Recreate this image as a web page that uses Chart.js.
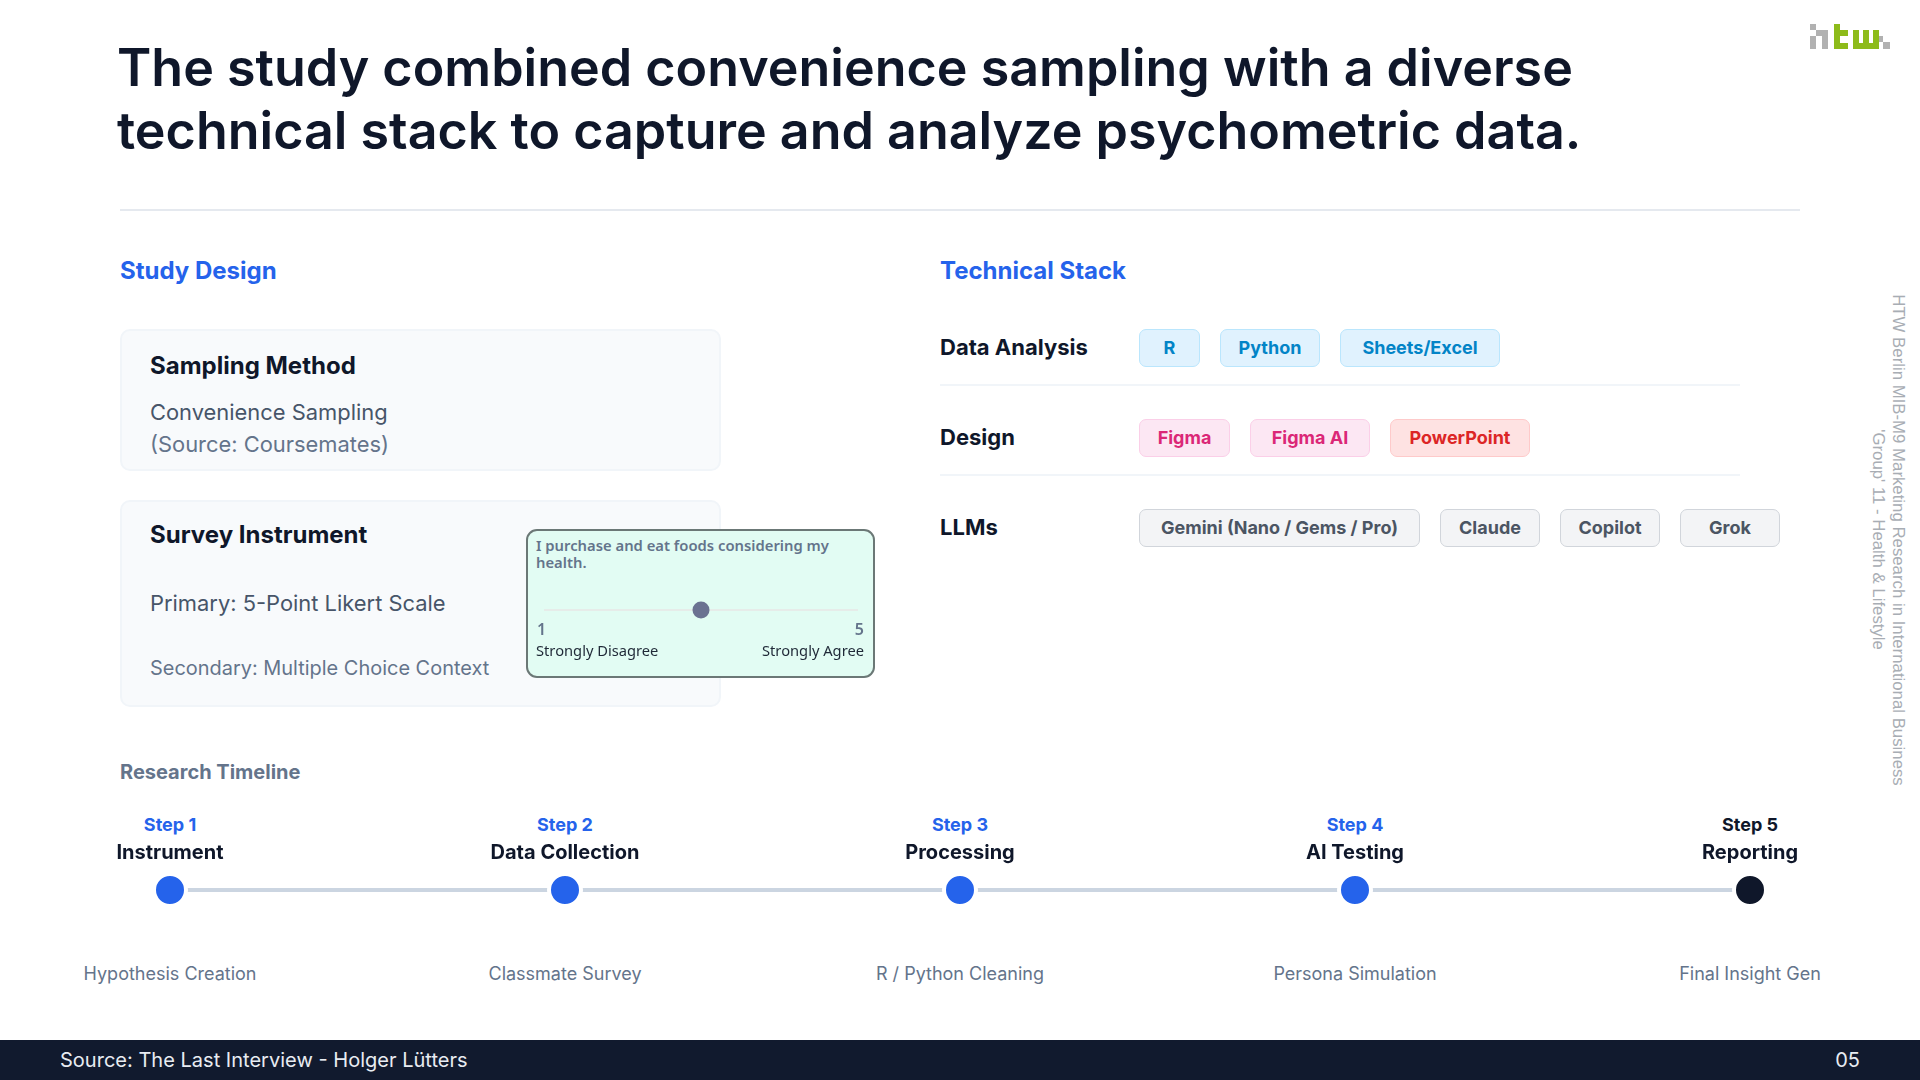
<!DOCTYPE html>
<html>
<head>
<meta charset="utf-8">
<title>Study design</title>
<script src="https://cdn.jsdelivr.net/npm/chart.js@4/dist/chart.umd.min.js"></script>
<style>
html, body { margin: 0; padding: 0; background: #fff; }
body { width: 1920px; height: 1080px; position: relative; overflow: hidden; font-family: Inter, sans-serif; color: #0f172a; }
.abs { position: absolute; white-space: nowrap; }
h1 { position: absolute; left: 117px; top: 36px; margin: 0; font-size: 52px; line-height: 63px; font-weight: 600; white-space: nowrap; }
.rule { position: absolute; left: 120px; top: 209px; width: 1680px; height: 2px; background: #e5e9ef; }
.head { font-size: 24px; font-weight: 700; color: #2563eb; line-height: 30px; top: 256px; }
.card { position: absolute; left: 120px; width: 601px; box-sizing: border-box; background: #f8fafc; border: 2px solid #f1f5f9; border-radius: 10px; }
.lbl { transform: translateY(-50%); }
.likert { position: absolute; left: 526px; top: 529px; width: 349px; height: 149px; box-sizing: border-box; background: #e2fcf3; border: 2.5px solid #6b7876; border-radius: 11px; }
.row { position: absolute; left: 1139px; display: flex; gap: 20px; height: 38px; }
.pill { box-sizing: border-box; height: 38px; line-height: 35px; text-align: center; border: 1.5px solid; border-radius: 7px; font-size: 18px; font-weight: 700; }
.divider { position: absolute; left: 940px; width: 800px; height: 2px; background: #f1f5f9; }
.rowname { left: 940px; font-size: 22px; font-weight: 700; }
.side { position: absolute; right: 12px; top: 540px; transform: translateY(-50%); writing-mode: vertical-rl; text-align: center; font-family: "Liberation Sans", sans-serif; font-size: 16.8px; line-height: 20px; color: #a8adb4; white-space: nowrap; }
.foot { position: absolute; left: 0; top: 1040px; width: 1920px; height: 40px; background: #111a2e; }
.step { transform: translate(-50%, -50%); text-align: center; }
</style>
</head>
<body>
<h1>The study combined convenience sampling with a diverse<br>technical stack to capture and analyze psychometric data.</h1>

<svg class="abs" style="left:1810px;top:24px" width="80" height="25" viewBox="0 0 80 25" role="img" aria-label="htw logo">
  <g fill="#b1b1b1">
    <rect x="0" y="0" width="6" height="6"/><rect x="0" y="12" width="6" height="13"/>
    <path d="M6 6h12v19h-6V12H6z"/>
    <rect x="73" y="18" width="7" height="7"/><rect x="67" y="12" width="6" height="6"/>
  </g>
  <path fill="#8dbb1a" d="M24 0h6v6h8v6h-8v7h8v6H24zM43 6h6v13h4V6h6v13h4V6h6v19H43z"/>
</svg>

<div class="rule"></div>
<div class="abs head" style="left:120px">Study Design</div>
<div class="abs head" style="left:940px">Technical Stack</div>

<div class="card" style="top:329px;height:142px"></div>
<div class="card" style="top:500px;height:207px"></div>
<div class="abs lbl" style="left:150px;top:365px;font-size:24px;font-weight:700">Sampling Method</div>
<div class="abs lbl" style="left:150px;top:412px;font-size:21.9px;color:#475569">Convenience Sampling</div>
<div class="abs lbl" style="left:150px;top:444px;font-size:21.9px;color:#64748b">(Source: Coursemates)</div>
<div class="abs lbl" style="left:150px;top:534px;font-size:24px;font-weight:700">Survey Instrument</div>
<div class="abs lbl" style="left:150px;top:603px;font-size:21.9px;color:#475569">Primary: 5-Point Likert Scale</div>
<div class="abs lbl" style="left:150px;top:668px;font-size:19.95px;color:#64748b">Secondary: Multiple Choice Context</div>

<div class="likert"></div>
<div class="abs" style="left:536px;top:537px;font-size:14.8px;line-height:17px;font-weight:600;color:#64748b;font-family:'Noto Sans',sans-serif">I purchase and eat foods considering my<br>health.</div>
<canvas id="likertChart" class="abs" style="left:530px;top:596px"></canvas>
<div id="likertLabels"></div>

<div id="stack"></div>

<div class="abs lbl" style="left:120px;top:772px;font-size:20px;font-weight:700;color:#64748b">Research Timeline</div>
<canvas id="timelineChart" class="abs" style="left:0;top:860px"></canvas>
<div id="steps"></div>

<div class="side">HTW Berlin MIB-M9 Marketing Research in International Business<br>'Group' 11 - Health &amp; Lifestyle</div>

<div class="foot"></div>
<div class="abs lbl" style="left:60px;top:1060px;font-size:20.05px;color:#e8ecf2">Source: The Last Interview - Holger Lütters</div>
<div class="abs lbl" style="right:60px;top:1060px;font-size:20px;color:#e8ecf2">05</div>

<script>
// TIMELINE DATA
const stepNumbers = [1, 2, 3, 4, 5];
const stepTitles = ["Instrument", "Data Collection", "Processing", "AI Testing", "Reporting"];
const stepNotes = ["Hypothesis Creation", "Classmate Survey", "R / Python Cleaning", "Persona Simulation", "Final Insight Gen"];
const stepLevels = [0, 0, 0, 0, 0];
const stepColors = ["#2563eb", "#2563eb", "#2563eb", "#2563eb", "#0f172a"];

// LIKERT DATA
const likertRange = [1, 5];
const likertAnswer = [3];
const likertEnds = ["Strongly Disagree", "Strongly Agree"];

// TECH STACK
const stackRows = ["Data Analysis", "Design", "LLMs"];
const dataTools = ["R", "Python", "Sheets/Excel"];
const designTools = ["Figma", "Figma AI", "PowerPoint"];
const llmTools = ["Gemini (Nano / Gems / Pro)", "Claude", "Copilot", "Grok"];

function addText(parent, cls, css, text) {
  const el = document.createElement('div');
  el.className = cls;
  el.style.cssText = css;
  el.textContent = text;
  parent.appendChild(el);
  return el;
}

// stack rows
const stack = document.getElementById('stack');
const rowTops = [329, 419, 509];
const blue = 'background:#e0f2fe;border-color:#bae6fd;color:#0284c7';
const pink = 'background:#fce7f3;border-color:#fbcfe8;color:#db2777';
const red = 'background:#fee2e2;border-color:#fecaca;color:#dc2626';
const gray = 'background:#f3f4f6;border-color:#d1d5db;color:#4b5563';
const rowTools = [dataTools, designTools, llmTools];
const rowStyles = [[blue, blue, blue], [pink, pink, red], [gray, gray, gray, gray]];
const rowWidths = [[61, 100, 160], [91, 120, 140], [281, 100, 100, 100]];

stackRows.forEach((name, r) => {
  addText(stack, 'abs lbl rowname', 'top:' + (rowTops[r] + 18) + 'px', name);
  const row = document.createElement('div');
  row.className = 'row';
  row.style.top = rowTops[r] + 'px';
  rowTools[r].forEach((t, i) => addText(row, 'pill', rowStyles[r][i] + ';width:' + rowWidths[r][i] + 'px', t));
  stack.appendChild(row);
  if (r < 2) {
    const d = document.createElement('div');
    d.className = 'divider';
    d.style.top = (rowTops[r] + 55) + 'px';
    stack.appendChild(d);
  }
});

// timeline
const timelineCanvas = document.getElementById('timelineChart');
timelineCanvas.width = 1920;
timelineCanvas.height = 60;
const timeline = new Chart(timelineCanvas, {
  type: 'line',
  data: {
    labels: stepNumbers,
    datasets: [{
      data: stepNumbers.map((n, i) => ({ x: n, y: stepLevels[i] })),
      borderColor: '#cbd5e1',
      borderWidth: 4,
      pointRadius: 16,
      pointBorderWidth: 4,
      pointBorderColor: '#ffffff',
      pointBackgroundColor: stepColors,
      clip: false
    }]
  },
  options: {
    responsive: false,
    animation: false,
    layout: { padding: { left: 170, right: 170 } },
    plugins: { legend: { display: false }, tooltip: { enabled: false } },
    scales: {
      x: { type: 'linear', min: 1, max: 5, display: false },
      y: { min: -1, max: 1, display: false }
    }
  }
});

const steps = document.getElementById('steps');
stepNumbers.forEach((n, i) => {
  const left = timeline.scales.x.getPixelForValue(n);
  addText(steps, 'abs step', 'left:' + left + 'px;top:823.5px;font-size:18px;font-weight:700;color:' + stepColors[i], 'Step ' + n);
  addText(steps, 'abs step', 'left:' + left + 'px;top:852px;font-size:20px;font-weight:700', stepTitles[i]);
  addText(steps, 'abs step', 'left:' + left + 'px;top:973px;font-size:18px;color:#64748b', stepNotes[i]);
});

// likert slider
const likertCanvas = document.getElementById('likertChart');
likertCanvas.width = 342;
likertCanvas.height = 28;
const likert = new Chart(likertCanvas, {
  type: 'scatter',
  data: {
    datasets: [
      {
        data: likertAnswer.map(v => ({ x: v, y: 0 })),
        pointRadius: 8.5,
        pointBackgroundColor: '#6b7291',
        pointBorderWidth: 0,
        clip: false
      },
      {
        data: likertRange.map(v => ({ x: v, y: 0 })),
        showLine: true,
        borderColor: '#e6ece9',
        borderWidth: 2,
        pointRadius: 0
      }
    ]
  },
  options: {
    responsive: false,
    animation: false,
    layout: { padding: { left: 14, right: 14 } },
    plugins: { legend: { display: false }, tooltip: { enabled: false } },
    scales: {
      x: { type: 'linear', min: likertRange[0], max: likertRange[1], display: false },
      y: { min: -1, max: 1, display: false }
    }
  }
});

const likertLabels = document.getElementById('likertLabels');
const likertFont = "font-family:'Noto Sans',sans-serif;";
addText(likertLabels, 'abs lbl', likertFont + 'left:537px;top:629px;font-size:16px;font-weight:600;color:#64748b', likertRange[0]);
addText(likertLabels, 'abs lbl', likertFont + 'right:1056px;top:629px;font-size:16px;font-weight:600;color:#64748b', likertRange[1]);
addText(likertLabels, 'abs lbl', likertFont + 'left:536px;top:650px;font-size:14.7px;color:#1f2937', likertEnds[0]);
addText(likertLabels, 'abs lbl', likertFont + 'right:1056px;top:650px;font-size:14.7px;color:#1f2937', likertEnds[1]);
</script>
</body>
</html>
